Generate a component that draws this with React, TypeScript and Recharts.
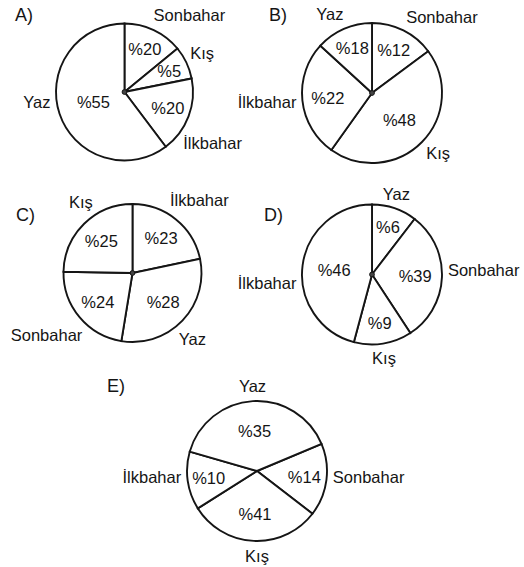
import React from 'react';
import { PieChart, Pie } from 'recharts';

// Season names, printed percentages and the slice sizes as drawn in the figure (degrees, clockwise)
const namesA = ['Sonbahar', 'Kış', 'İlkbahar', 'Yaz'];
const percentA = [20, 5, 20, 55];
const drawnA = [50.6, 28, 64.4, 217];

const namesB = ['Sonbahar', 'Kış', 'İlkbahar', 'Yaz'];
const percentB = [12, 48, 22, 18];
const drawnB = [53.4, 162.1, 97, 47.5];

const namesC = ['İlkbahar', 'Yaz', 'Sonbahar', 'Kış'];
const percentC = [23, 28, 24, 25];
const drawnC = [78.1, 111.2, 81.7, 89];

const namesD = ['Yaz', 'Sonbahar', 'Kış', 'İlkbahar'];
const percentD = [6, 39, 9, 46];
const drawnD = [37.5, 109.3, 48.2, 165];

const namesE = ['Sonbahar', 'Kış', 'İlkbahar', 'Yaz'];
const percentE = [14, 41, 10, 35];
const drawnE = [60.4, 110.1, 48.3, 141.2];

const titles = ['A)', 'B)', 'C)', 'D)', 'E)'];

const FONT = '"Liberation Sans", Arial, Helvetica, sans-serif';
const INK = '#151515';

type PieCfg = {
  names: string[];
  pct: number[];
  drawn: number[];
  cx: number;
  cy: number;
  r: number;
  offset: number;
  dot: boolean;
  labelAngle: (number | null)[];
  title: string;
  titlePos: [number, number];
};

const PIES: PieCfg[] = [
  { names: namesA, pct: percentA, drawn: drawnA, cx: 124.5, cy: 92, r: 68.5, offset: 0, dot: true,
    labelAngle: [23, 62, 128, 263], title: titles[0], titlePos: [15, 6] },
  { names: namesB, pct: percentB, drawn: drawnB, cx: 372, cy: 93, r: 70, offset: 0, dot: true,
    labelAngle: [null, null, null, 338], title: titles[1], titlePos: [269, 6] },
  { names: namesC, pct: percentC, drawn: drawnC, cx: 132.5, cy: 273, r: 69, offset: 0, dot: true,
    labelAngle: [30, 142, 222, 328], title: titles[2], titlePos: [16, 206] },
  { names: namesD, pct: percentD, drawn: drawnD, cx: 372, cy: 274.5, r: 70, offset: 0, dot: true,
    labelAngle: [null, 87, null, 264], title: titles[3], titlePos: [264, 206] },
  { names: namesE, pct: percentE, drawn: drawnE, cx: 257, cy: 471, r: 70, offset: 67.2, dot: false,
    labelAngle: [94, 180, 266, null], title: titles[4], titlePos: [107, 377] },
];

const makeLabel = (cfg: PieCfg) => (props: any) => {
  const { cx, cy, midAngle, outerRadius, index, startAngle, endAngle } = props;
  const span = Math.abs((endAngle ?? 0) - (startAngle ?? 0)) || cfg.drawn[index];
  const rad = Math.PI / 180;
  // inner percentage
  const tMid = (90 - midAngle) * rad;
  const rr = outerRadius * (0.76 - 0.0013 * span);
  const ix = cx + rr * Math.sin(tMid);
  const iy = cy - rr * Math.cos(tMid);
  // outer name
  const override = cfg.labelAngle[index];
  const tOut = (override != null ? override : 90 - midAngle) * rad;
  const s = Math.sin(tOut);
  const c = Math.cos(tOut);
  const R = outerRadius + 6;
  const ox = cx + R * s;
  const oy = cy - R * c - c * 9;
  const anchor = s > 0.36 ? 'start' : s < -0.36 ? 'end' : 'middle';
  return (
    <g key={`lab-${index}`}>
      {index === 0 && cfg.dot ? (
        <circle cx={cx} cy={cy} r={2.4} fill="#444" stroke={INK} strokeWidth={1} />
      ) : null}
      <text x={ix} y={iy} textAnchor="middle" dominantBaseline="central"
        fontFamily={FONT} fontSize={16.5} fill={INK}>
        {'%' + cfg.pct[index]}
      </text>
      <text x={ox} y={oy} textAnchor={anchor} dominantBaseline="central"
        fontFamily={FONT} fontSize={16.5} fill={INK}>
        {cfg.names[index]}
      </text>
    </g>
  );
};

export default function App() {
  return (
    <div style={{ position: 'absolute', left: 0, top: 0, width: 524, height: 567, background: '#fff' }}>
      <PieChart width={524} height={567} margin={{ top: 0, right: 0, bottom: 0, left: 0 }}>
        {PIES.map((cfg, k) => (
          <Pie
            key={`pie-${k}`}
            data={cfg.names.map((n, i) => ({ name: n, value: cfg.drawn[i] }))}
            dataKey="value"
            nameKey="name"
            cx={cfg.cx}
            cy={cfg.cy}
            outerRadius={cfg.r}
            startAngle={90 - cfg.offset}
            endAngle={90 - cfg.offset - 360}
            fill="#ffffff"
            stroke={INK}
            strokeWidth={1.9}
            label={makeLabel(cfg)}
            labelLine={false}
            isAnimationActive={false}
          />
        ))}
      </PieChart>
      {PIES.map((cfg, k) => (
        <div key={`t-${k}`} style={{ position: 'absolute', left: cfg.titlePos[0], top: cfg.titlePos[1],
          fontFamily: FONT, fontSize: 18, lineHeight: '18px', color: INK }}>
          {cfg.title}
        </div>
      ))}
    </div>
  );
}
